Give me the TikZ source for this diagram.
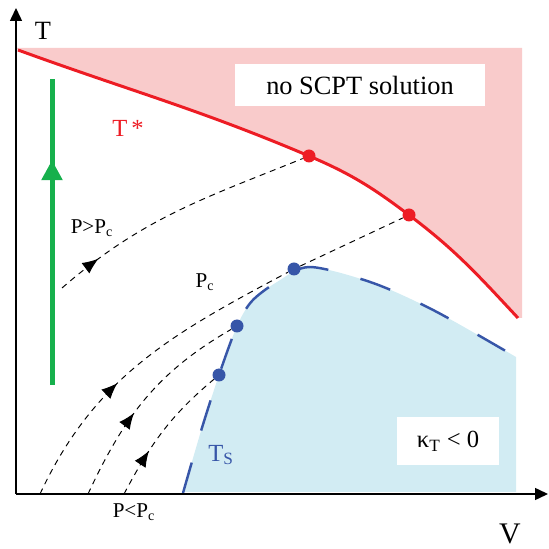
\documentclass[tikz,border=0pt]{standalone}
\usepackage{fontspec}
\setmainfont{Liberation Serif}
\usepackage{tikz}
\usetikzlibrary{positioning, arrows.meta, decorations.markings}
\usepackage{xcolor}
\definecolor{tstarred}{RGB}{237,28,36}
\definecolor{nosolpink}{RGB}{249,203,203}
\definecolor{spinblue}{RGB}{55,86,168}
\definecolor{kappablue}{RGB}{210,236,243}
\definecolor{heatgreen}{RGB}{22,176,76}

\begin{document}
\begin{tikzpicture}[x=0.2mm, y=0.2mm,
    axis/.style={line width=0.85pt, -{Triangle[length=2.6mm, width=2.4mm]}},
    tstar/.style={tstarred, line width=1.7pt},
    spinodal/.style={spinblue, line width=1.4pt, dash pattern=on 18pt off 19pt},
    isobar/.style={black, line width=0.55pt, dash pattern=on 3.4pt off 2.8pt},
    midarrow/.style={postaction={decorate}, decoration={markings,
        mark=at position #1 with {\arrow{Latex[length=3.2mm, width=2.6mm]}}}},
    reddot/.style={circle, fill=tstarred, minimum size=2.6mm, inner sep=0pt},
    bluedot/.style={circle, fill=spinblue, minimum size=2.6mm, inner sep=0pt},
    whitebox/.style={fill=white, inner sep=0pt},
    lbl/.style={font=\fontsize{12pt}{14pt}\selectfont, inner sep=0pt},
]
\useasboundingbox (0,0) rectangle (549,549);

% ─── Regions ─────────────────────────────────────────────────────
\fill[nosolpink] (18,499) to[out=-20, in=157] (309,393) to[out=-23, in=143] (409,334)
    to[out=-37, in=133] (518,231) -- (522,231) -- (522,501) -- (16,501) -- cycle;
\fill[kappablue] plot[smooth] coordinates {(183,56) (201,118) (219,174) (237,223) (252,248) (277,267) (310,282) (373,266) (435,238) (516,192)}
    -- (516,57) -- (183,57) -- cycle;

% ─── Boundaries ──────────────────────────────────────────────────
\draw[tstar] (18,499) to[out=-20, in=157] (309,393) to[out=-23, in=143] (409,334)
    to[out=-37, in=133] (518,231);
\draw[spinodal] plot[smooth] coordinates {(183,56) (201,118) (219,174) (237,223) (252,248) (277,267) (310,282) (373,266) (435,238) (516,192)};

% ─── Axes ────────────────────────────────────────────────────────
\coordinate (O) at (16,55);
\coordinate (Tend) at (16,541);
\coordinate (Vend) at (548,55);
\draw[axis] (O) -- (Tend);
\draw[axis] (O) -- (Vend);
\node[font=\fontsize{15pt}{17pt}\selectfont] (Tlab) at (43,518) {T};
\node[font=\fontsize{17pt}{19pt}\selectfont] (Vlab) at (510,15) {V};

% ─── Labels in the regions ───────────────────────────────────────
\node[whitebox, minimum width=50mm, minimum height=8.4mm,
      font=\fontsize{15pt}{17pt}\selectfont] (nosol) at (360,464) {no SCPT solution};
\node[whitebox, minimum width=20.4mm, minimum height=9.6mm,
      font=\fontsize{14pt}{16pt}\selectfont] (kappa) at (448,108) {κ\textsubscript{T} < 0};
\node[text=tstarred, font=\fontsize{14pt}{16pt}\selectfont] (Tstar) at (128,421) {T\,*};
\node[text=spinblue, font=\fontsize{14pt}{16pt}\selectfont] (Ts) at (221,94) {T\textsubscript{S}};

% ─── Dots on the boundaries ──────────────────────────────────────
\node[reddot] (r1) at (309,393) {};
\node[reddot] (r2) at (409,334) {};
\node[bluedot] (b1) at (219,174) {};
\node[bluedot] (b2) at (237,223) {};
\node[bluedot] (b3) at (294,280) {};

% ─── Heating paths ───────────────────────────────────────────────
\coordinate (s0) at (62,261);
\coordinate (s1) at (40,55);
\coordinate (s2) at (88,55);
\coordinate (s3) at (124,55);
\draw[isobar, midarrow=0.17] (s0) to[out=41, in=202] (r1);
\draw[isobar, midarrow=0.40] (s1) to[out=65, in=208] (b3);
\draw[isobar] (b3) -- (r2);
\draw[isobar, midarrow=0.42] (s2) to[out=65, in=210] (b2);
\draw[isobar, midarrow=0.34] (s3) to[out=62, in=220] (b1);

\node[lbl] (pgt) at (92,321) {P>P\textsubscript{c}};
\node[lbl] (pc)  at (205,267) {P\textsubscript{c}};
\node[lbl] (plt) at (134,37) {P<P\textsubscript{c}};

% ─── Isochore heating ────────────────────────────────────────────
\coordinate (gb) at (52,164);
\coordinate (gt) at (52,470);
\draw[heatgreen, line width=1mm, postaction={decorate}, decoration={markings,
      mark=at position 0.735 with {\arrow{Triangle[length=4mm, width=4mm]}}}] (gb) -- (gt);

\end{tikzpicture}
\end{document}
